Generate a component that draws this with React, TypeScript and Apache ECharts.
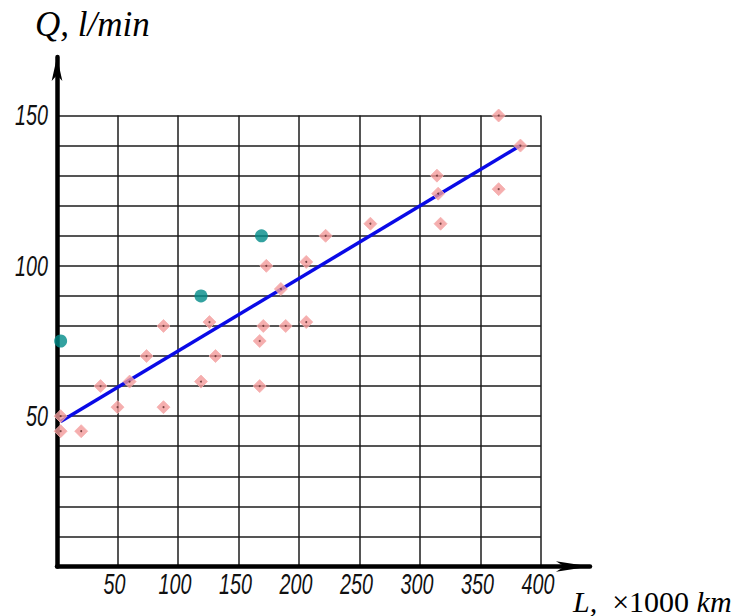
import React, { useEffect, useRef } from "react";
import * as echarts from "echarts";

const xTickLabels = [50, 100, 150, 200, 250, 300, 350, 400];
const yTickLabels = [50, 100, 150];

const measuredPoints: [number, number][] = [
  [3, 50], [3, 45], [20, 45], [36, 60], [50, 53], [60, 61.5], [74, 70],
  [88, 80], [88, 53], [119, 61.5], [126, 81.3], [131, 70], [167.5, 75],
  [167.5, 60], [170.5, 80], [189, 80], [206, 81.3], [173, 100], [206, 101.3],
  [185, 92.3], [222, 110], [259, 114], [314, 130], [315, 124], [317, 114],
  [365, 150], [365, 125.5], [383, 140],
];

const referencePoints: [number, number][] = [
  [3, 75], [119, 90], [169, 110],
];

const fitLine: [number, number][] = [
  [3, 48.2], [383, 140],
];

const tickStyle = {
  fontFamily: '"Liberation Sans", Arial, sans-serif',
  fontStyle: "italic",
  fontSize: 29,
  fill: "#111",
};

export default function App() {
  const ref = useRef<HTMLDivElement>(null);
  useEffect(() => {
    if (!ref.current) return;
    const chart = echarts.init(ref.current, undefined, { renderer: "svg" });
    const gridColor = "#1c1c1c";
    chart.setOption({
      animation: false,
      backgroundColor: "#fff",
      grid: [
        { left: 57, right: 203, top: 115.5, bottom: 49.5 },
        { left: 57, right: 154, top: 57, bottom: 49.5 },
      ],
      xAxis: [
        {
          type: "value",
          gridIndex: 0,
          min: 0,
          max: 400,
          interval: 50,
          axisLine: { show: false },
          axisTick: { show: false },
          splitLine: { show: true, lineStyle: { color: gridColor, width: 1.5 } },
          axisLabel: { show: false },
        },
        {
          type: "value",
          gridIndex: 1,
          min: 0,
          max: 1,
          axisLine: {
            show: true,
            onZero: false,
            symbol: ["none", "arrow"],
            symbolSize: [8, 34],
            lineStyle: { color: "#000", width: 4.5 },
          },
          axisTick: { show: false },
          axisLabel: { show: false },
          splitLine: { show: false },
        },
      ],
      yAxis: [
        {
          type: "value",
          gridIndex: 0,
          min: 0,
          max: 150,
          interval: 10,
          axisLine: { show: false },
          axisTick: { show: false },
          splitLine: { show: true, lineStyle: { color: gridColor, width: 1.5 } },
          axisLabel: { show: false },
        },
        {
          type: "value",
          gridIndex: 1,
          min: 0,
          max: 1,
          axisLine: {
            show: true,
            onZero: false,
            symbol: ["none", "arrow"],
            symbolSize: [8, 24],
            lineStyle: { color: "#000", width: 4.5 },
          },
          axisTick: { show: false },
          axisLabel: { show: false },
          splitLine: { show: false },
        },
      ],
      series: [
        {
          type: "line",
          xAxisIndex: 0,
          yAxisIndex: 0,
          data: fitLine,
          symbol: "none",
          lineStyle: { color: "#0a0ae6", width: 3.5 },
          z: 3,
        },
        {
          type: "scatter",
          xAxisIndex: 0,
          yAxisIndex: 0,
          data: measuredPoints,
          symbol: "diamond",
          symbolSize: 13,
          clip: false,
          itemStyle: { color: "#f39a9a", borderColor: "#f6b0b0", borderWidth: 1 },
          z: 4,
        },
        {
          type: "scatter",
          xAxisIndex: 0,
          yAxisIndex: 0,
          data: measuredPoints,
          symbol: "circle",
          symbolSize: 2,
          clip: false,
          itemStyle: { color: "#5a2828" },
          z: 5,
        },
        {
          type: "scatter",
          xAxisIndex: 0,
          yAxisIndex: 0,
          data: referencePoints,
          symbol: "circle",
          symbolSize: 13,
          clip: false,
          itemStyle: { color: "#008b88" },
          z: 6,
        },
      ],
    });

    const xLabels = xTickLabels.map((v) => {
      const p = chart.convertToPixel({ gridIndex: 0 }, [v, 0]) as number[];
      return {
        type: "text",
        x: p[0] - 3,
        y: p[1] + 18,
        scaleX: 0.68,
        style: { ...tickStyle, text: String(v), align: "center", verticalAlign: "middle" },
      };
    });
    const yLabels = yTickLabels.map((v) => {
      const p = chart.convertToPixel({ gridIndex: 0 }, [0, v]) as number[];
      return {
        type: "text",
        x: p[0] - 9,
        y: p[1],
        scaleX: 0.68,
        style: { ...tickStyle, text: String(v), align: "right", verticalAlign: "middle" },
      };
    });

    chart.setOption({
      graphic: [
        ...xLabels,
        ...yLabels,
        {
          type: "text",
          x: 35,
          y: 24,
          style: {
            text: "Q, l/min",
            fontFamily: '"Liberation Serif", "DejaVu Serif", serif',
            fontStyle: "italic",
            fontSize: 35,
            fill: "#000",
            verticalAlign: "middle",
          },
        },
        {
          type: "text",
          x: 573,
          y: 601,
          style: {
            text: "{i|L,}  ×1000 {i|km}",
            fontFamily: '"Liberation Serif", "DejaVu Serif", serif',
            fontSize: 30,
            lineHeight: 29,
            fill: "#000",
            verticalAlign: "middle",
            rich: {
              i: {
                fontFamily: '"Liberation Serif", "DejaVu Serif", serif',
                fontStyle: "italic",
                fontSize: 30,
                lineHeight: 29,
                fill: "#000",
              },
            },
          },
        },
      ],
    });
    return () => chart.dispose();
  }, []);
  return (
    <div
      ref={ref}
      style={{ position: "absolute", left: 0, top: 0, width: 744, height: 616 }}
    />
  );
}
